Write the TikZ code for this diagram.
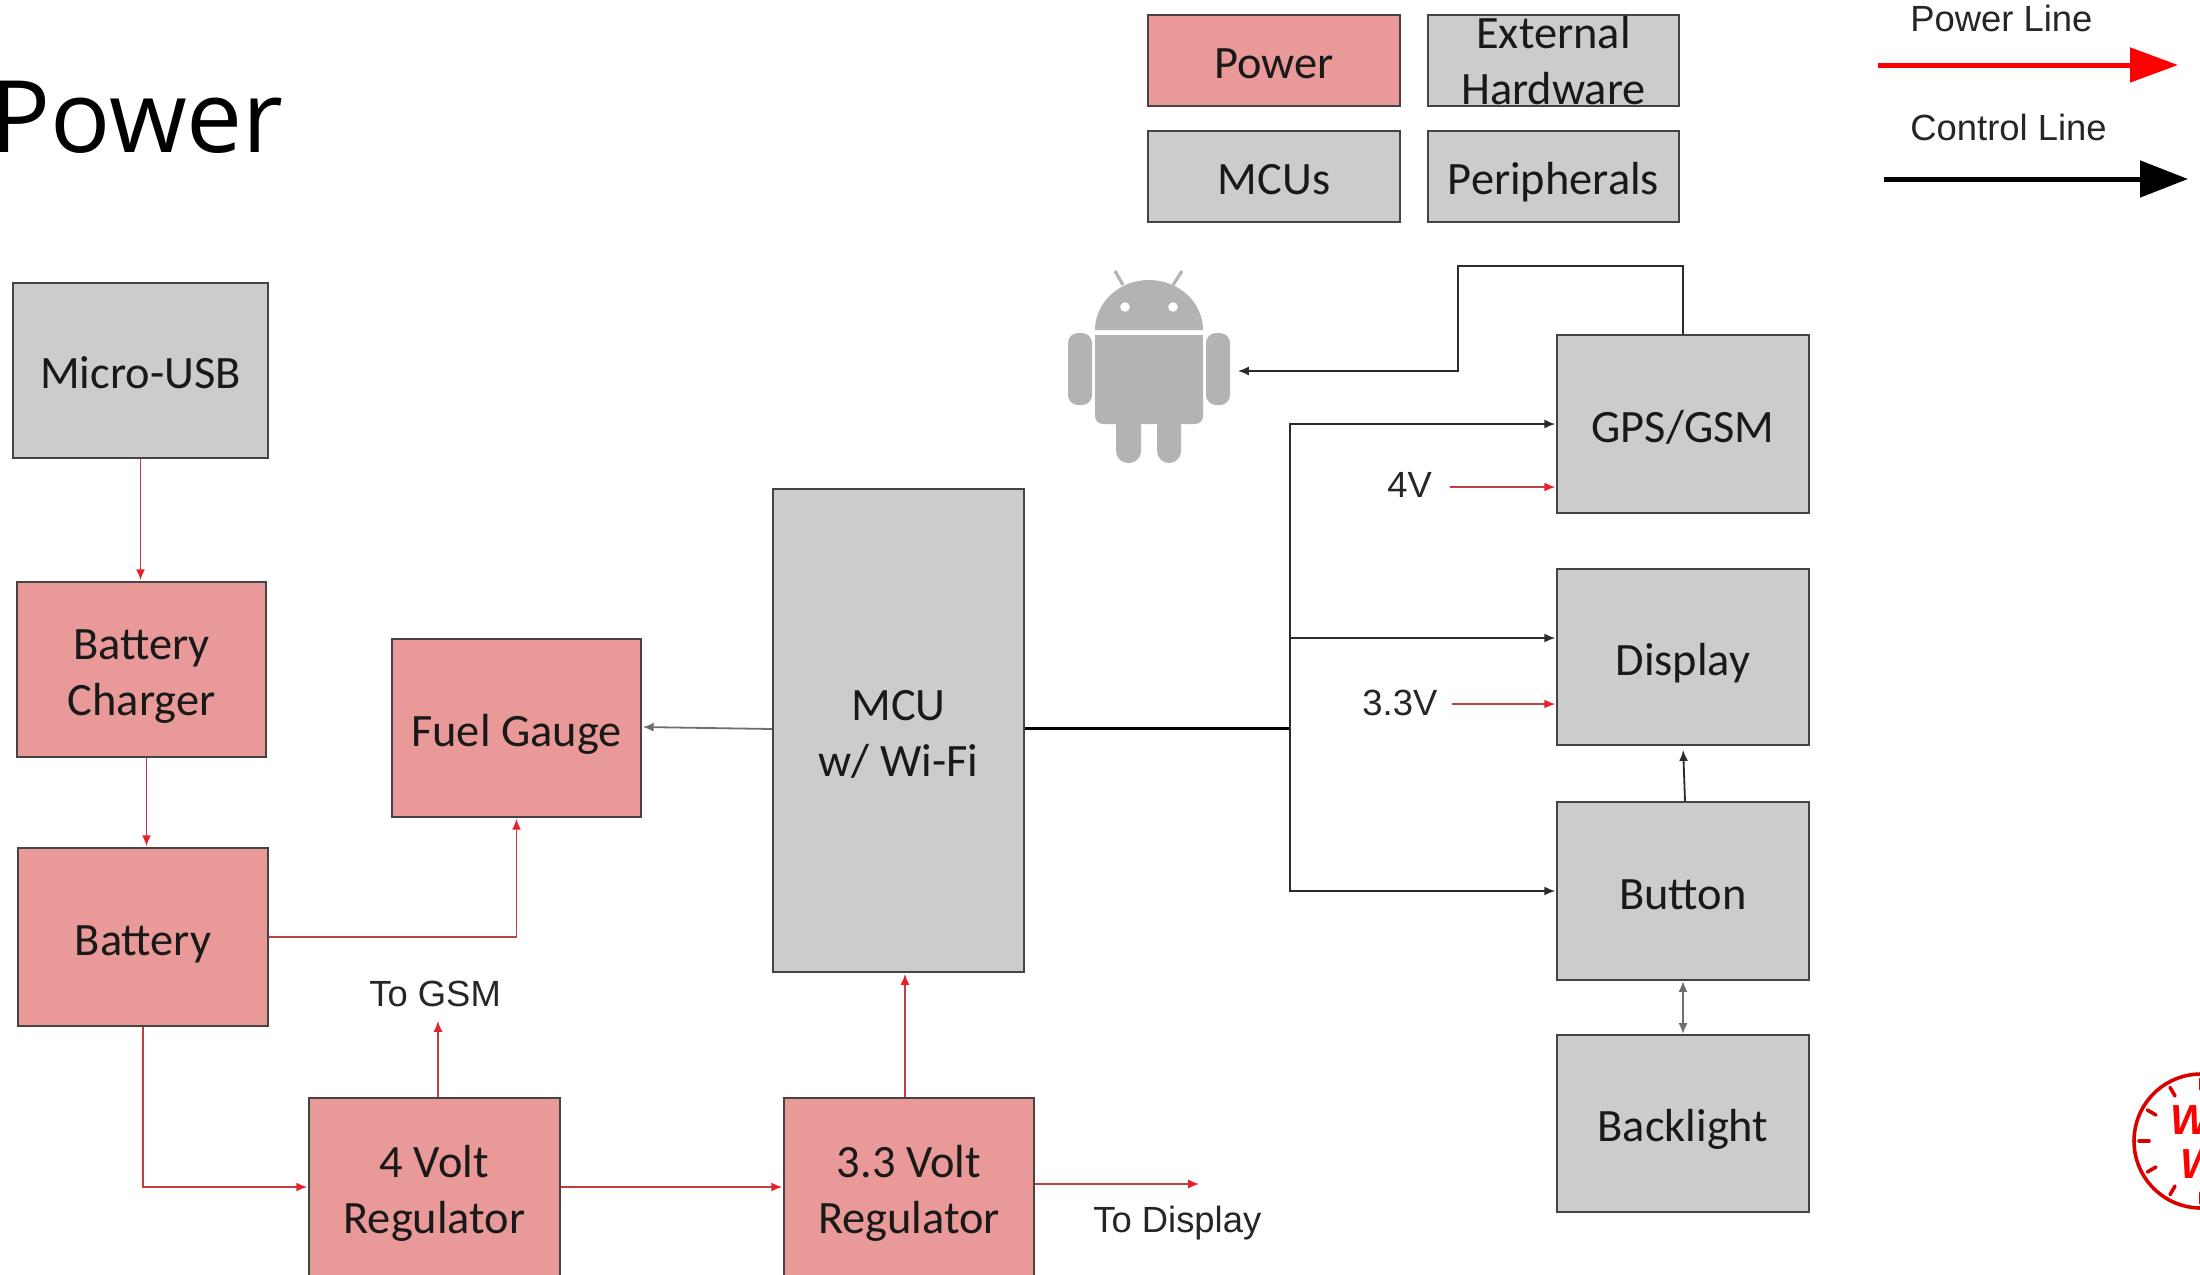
\documentclass[tikz,border=0pt]{standalone}
\usepackage{fontspec}
\setmainfont{Carlito}
\newfontfamily\arialf{Liberation Sans}
\newfontfamily\titlef{Open Sans}
\usetikzlibrary{arrows.meta,calc}
\definecolor{pw}{HTML}{EA9999}
\definecolor{gr}{HTML}{CCCCCC}
\definecolor{edgeg}{HTML}{444444}
\definecolor{pline}{HTML}{BE4040}
\definecolor{phead}{HTML}{E8202A}
\definecolor{droid}{HTML}{B3B3B3}
\definecolor{cline}{HTML}{2B2B2B}
\definecolor{gline}{HTML}{6E6E6E}
\tikzset{
  x=0.5pt,y=-0.5pt,
  boxbase/.style={draw=edgeg,line width=0.9pt,inner sep=0pt,align=center,font=\fontsize{23.2}{28}\selectfont,text=black!90,text height=18.4pt,text depth=0pt},
  twol/.style={text height=46pt,text depth=0pt},
  twolow/.style={text height=43.6pt,text depth=0pt},
  pbox/.style={boxbase,fill=pw},
  gbox/.style={boxbase,fill=gr},
  lbl/.style={inner sep=0pt,anchor=base west,font=\arialf\fontsize{18.2}{22}\selectfont,text=black!85},
  pwr/.style={draw=pline,line width=0.9pt,shorten >=0.4pt,-{Latex[length=5.5pt,width=4.5pt,color=phead]}},
  ctl/.style={draw=cline,line width=0.9pt,shorten >=0.4pt,-{Latex[length=5.5pt,width=4.5pt]}},
  gryl/.style={draw=gline,line width=0.9pt,shorten >=0.4pt,-{Latex[length=5.5pt,width=4.5pt]}},
  grbi/.style={draw=gline,line width=1pt,{Latex[length=5.5pt,width=4.5pt]}-{Latex[length=5.5pt,width=4.5pt]}},
  bigp/.style={draw=red,line width=2.5pt,-{Triangle[length=24pt,width=17pt,color=red]}},
  bigc/.style={draw=black,line width=2.5pt,-{Triangle[length=24pt,width=18pt,color=black]}},
  stampline/.style={draw=red!85!black,line width=1.8pt,line cap=round},
}
\newcommand{\bx}[6]{\node[#1,minimum width=#4*0.5pt-#3*0.5pt,minimum height=#6*0.5pt-#5*0.5pt] (#2) at ({(#3+#4)/2},{(#5+#6)/2+1})}
\begin{document}
\begin{tikzpicture}
\useasboundingbox (0,0) rectangle (2200,1274);
\clip (0,0) rectangle (2200,1274);
\fill[white] (0,0) rectangle (2200,1274);
\node[anchor=base west,inner sep=0pt,font=\titlef\fontsize{50}{60}\selectfont] (title) at (-10,152) {Power};
% legend boxes
\bx{pbox}{lp}{1148}{1400}{14}{105} {Power};
\bx{gbox,twolow}{le}{1428}{1679}{14}{105} {External\\Hardware};
\bx{gbox}{lm}{1148}{1400}{130}{221} {MCUs};
\bx{gbox}{lh}{1428}{1679}{130}{221} {Peripherals};
% legend arrows
\node[lbl] (lpl) at (1910,32) {Power Line};
\node[lbl] (lcl) at (1910,140) {Control Line};
\coordinate (pa) at (1878,65); \coordinate (pb) at (2178,65);
\coordinate (ca) at (1884,179); \coordinate (cb) at (2188,179);
\draw[bigp] (pa) -- (pb);
\draw[bigc] (ca) -- (cb);
% main boxes
\bx{gbox}{usb}{13}{268}{282}{457} {Micro-USB};
\bx{pbox,twol}{chg}{17}{266}{581}{756} {Battery\\Charger};
\bx{pbox}{bat}{18}{268}{847}{1025} {Battery};
\bx{pbox}{fuel}{392}{641}{638}{816} {Fuel Gauge};
\bx{gbox,twol}{mcu}{773}{1024}{488}{971} {MCU\\w/ Wi-Fi};
\bx{pbox,twol}{rfour}{309}{560}{1097}{1275} {4 Volt\\Regulator};
\bx{pbox,twol}{rthree}{784}{1034}{1097}{1275} {3.3 Volt\\Regulator};
\bx{gbox}{gps}{1557}{1809}{334}{512} {GPS/GSM};
\bx{gbox}{disp}{1557}{1809}{568}{744} {Display};
\bx{gbox}{btn}{1557}{1809}{801}{979} {Button};
\bx{gbox}{bkl}{1557}{1809}{1034}{1211} {Backlight};
% labels
\node[lbl] (lgsm) at (369,1006) {To GSM};
\node[lbl] (ldsp) at (1093,1232) {To Display};
\node[lbl] (lfour) at (1387,497) {4V};
\node[lbl] (lthree) at (1362,715) {3.3V};
% android
\fill[droid] (1095,330) arc[start angle=180,end angle=0,x radius=27pt,y radius=25pt] -- cycle;
\fill[droid,rounded corners=4pt] (1095,335) -- (1203,335) -- (1203,424) -- (1095,424) -- cycle;
\fill[droid] (1095,335) rectangle (1203,400);
\fill[droid,rounded corners=5pt] (1068,333) rectangle (1092,405);
\fill[droid,rounded corners=5pt] (1206,333) rectangle (1230,405);
\fill[droid,rounded corners=6pt] (1116,410) rectangle (1141,463);
\fill[droid,rounded corners=6pt] (1157,410) rectangle (1181,463);
\draw[droid,line width=1.6pt] (1123,285) -- (1115,271);
\draw[droid,line width=1.6pt] (1173,285) -- (1182,271);
\fill[white] (1125,307) circle[radius=2.4pt];
\fill[white] (1173,307) circle[radius=2.4pt];
\coordinate (droidpt) at (1237,371);
% power connectors
\draw[pwr] (usb.south) -- (usb.south |- chg.north);
\draw[pwr] ([xshift=2.5pt]chg.south) -- ([xshift=2.5pt]chg.south |- bat.north);
\draw[pwr] (bat.east) -| (fuel.south);
\draw[pwr] (bat.south) |- (rfour.west);
\coordinate (tg) at (438,1020);
\draw[pwr] (tg |- rfour.north) -- (tg);
\draw[pwr] (rfour.east) -- (rthree.west);
\coordinate (mt) at (905,973);
\draw[pwr] (mt |- rthree.north) -- (mt);
\coordinate (td) at (1200,1184);
\draw[pwr] (td -| rthree.east) -- (td);
\draw[pwr] ([xshift=9pt,yshift=5pt]lfour.base east) -- ([yshift=5pt]lfour.base -| gps.west);
\draw[pwr] ([xshift=7pt,yshift=5.5pt]lthree.base east) -- ([yshift=5.5pt]lthree.base -| disp.west);
% control connectors
\coordinate (j) at (1290,728);
\coordinate (jd) at (1290,638);
\draw[black,line width=1.5pt] (mcu.east |- j) -- (j);
\draw[ctl] (j) |- (gps.west);
\draw[ctl] (jd) -- (jd -| disp.west);
\draw[ctl] (j) |- (btn.west);
\coordinate (ga) at (1458,266);
\coordinate (gb) at (1458,371);
\draw[ctl] (gps.north) |- (ga) -- (gb) -- (droidpt);
\draw[ctl,shorten >=2pt] ([xshift=1pt]btn.north) -- (disp.south);
\draw[gryl] ([yshift=-0.5pt]mcu.west |- j) -- ([yshift=0.5pt]fuel.east |- j);
\draw[grbi] (btn.south) -- (bkl.north);
% stamp
\coordinate (st) at (2201,1141);
\draw[stampline] (st) circle[radius=33.5pt];
\foreach \a in {90,120,150,180,210,240,270}
  \draw[stampline] ($(st)+(\a:26pt)$) -- ($(st)+(\a:31pt)$);
\node[anchor=base west,inner sep=0pt,text=red,font=\arialf\bfseries\itshape\fontsize{21}{22}\selectfont] (wa) at (2170,1134) {W};
\node[anchor=base west,inner sep=0pt,text=red,font=\arialf\bfseries\itshape\fontsize{21}{22}\selectfont] (wb) at (2180,1178) {W};
\end{tikzpicture}
\end{document}
